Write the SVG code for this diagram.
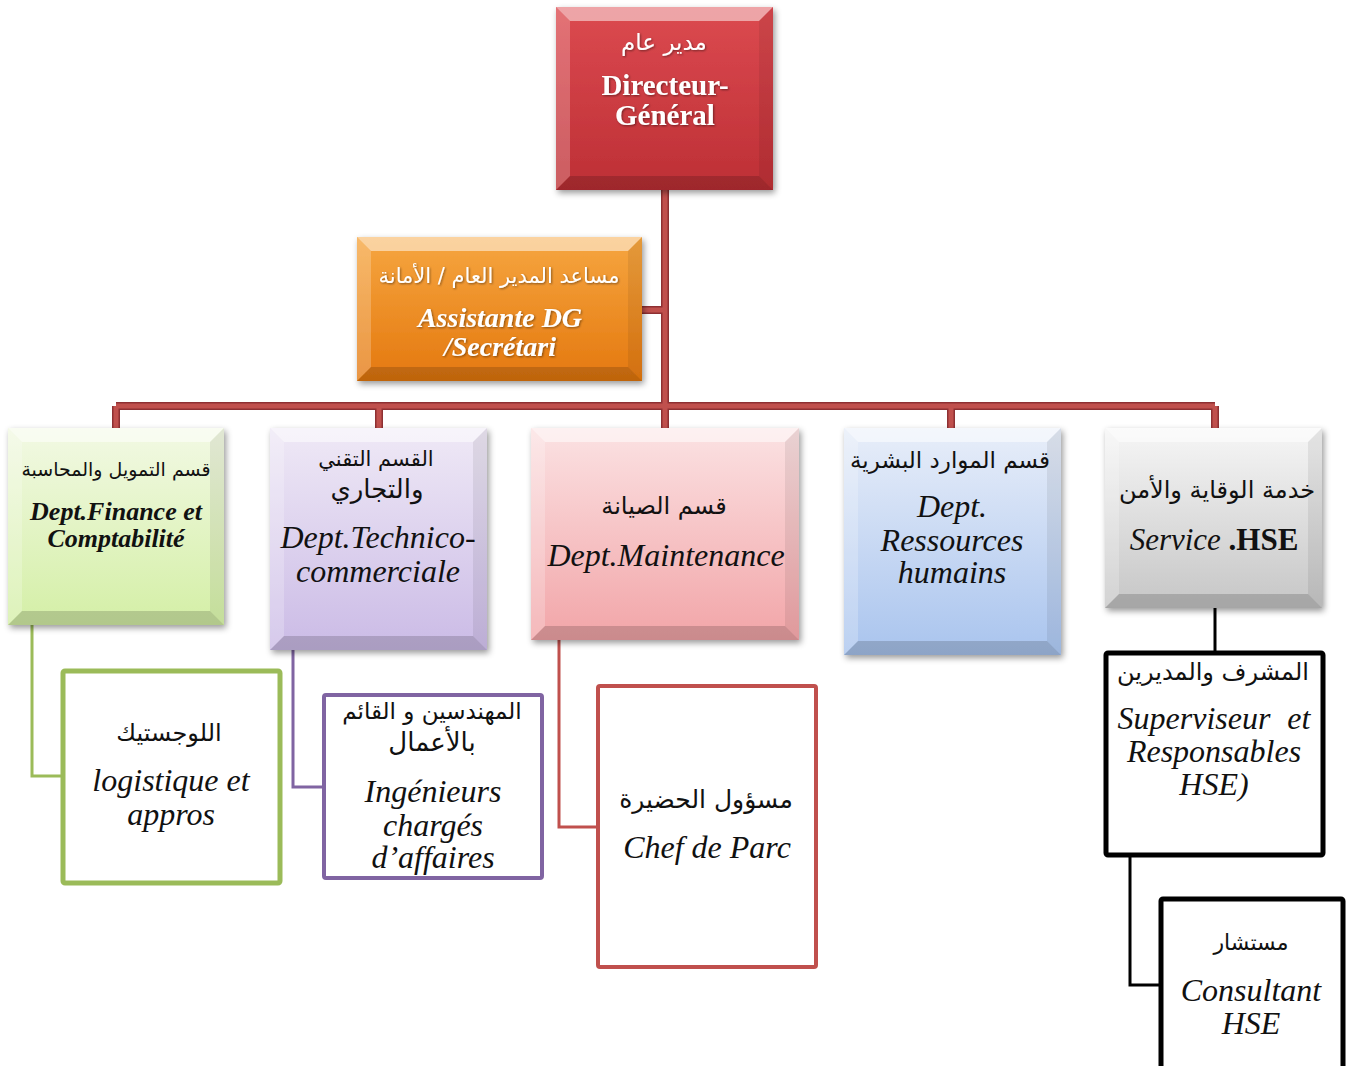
<svg xmlns="http://www.w3.org/2000/svg" width="1347" height="1066" viewBox="0 0 1347 1066">
<style>
.ar{font-family:'DejaVu Sans','Noto Sans',sans-serif;font-size:23px;text-anchor:middle;direction:rtl;fill:#111}
.lt{font-family:'Liberation Serif','DejaVu Serif',serif;font-size:32px;text-anchor:middle;fill:#111}
.it{font-style:italic}
.wh{fill:#fff}
.bt{font-weight:bold}
.bv1{fill:#fff;opacity:.5}
.bv2{fill:#fff;opacity:.22}
.bv3{fill:#000;opacity:.07}
.bv4{fill:#000;opacity:.16}
.sub{fill:#fff}
.cn{fill:none;stroke-width:3}
</style>
<defs>
<filter id="sh" x="-10%" y="-10%" width="125%" height="125%"><feDropShadow dx="2" dy="3" stdDeviation="3" flood-color="#000" flood-opacity=".4"/></filter>
<filter id="ts" x="-5%" y="-20%" width="110%" height="140%"><feDropShadow dx="1" dy="1" stdDeviation="1" flood-color="#000" flood-opacity=".45"/></filter>
<linearGradient id="gR" x1="0" y1="0" x2="0" y2="1"><stop offset="0" stop-color="#dc4a50"/><stop offset="1" stop-color="#bd2f35"/></linearGradient>
<linearGradient id="gO" x1="0" y1="0" x2="0" y2="1"><stop offset="0" stop-color="#f6a640"/><stop offset="1" stop-color="#e4780f"/></linearGradient>
<linearGradient id="gG" x1="0" y1="0" x2="0" y2="1"><stop offset="0" stop-color="#f2f9e4"/><stop offset="1" stop-color="#d4efa6"/></linearGradient>
<linearGradient id="gP" x1="0" y1="0" x2="0" y2="1"><stop offset="0" stop-color="#efe9f6"/><stop offset="1" stop-color="#cbbbe6"/></linearGradient>
<linearGradient id="gK" x1="0" y1="0" x2="0" y2="1"><stop offset="0" stop-color="#fbe2e3"/><stop offset="1" stop-color="#f2a5a8"/></linearGradient>
<linearGradient id="gB" x1="0" y1="0" x2="0" y2="1"><stop offset="0" stop-color="#e8eef9"/><stop offset="1" stop-color="#a9c4ee"/></linearGradient>
<linearGradient id="gS" x1="0" y1="0" x2="0" y2="1"><stop offset="0" stop-color="#f6f6f6"/><stop offset="1" stop-color="#c6c6c6"/></linearGradient>
</defs>

<g id="connectors">
<g stroke="#8e3033" stroke-width="8" fill="none">
<path d="M665,190 V406 M642,310 H665 M116,406 H1215 M116,406 V428 M379,406 V428 M665,406 V428 M951,406 V428 M1215,406 V428"/>
</g>
<g stroke="#c0504d" stroke-width="5" fill="none">
<path d="M665,190 V406 M642,310 H665 M116,406 H1215 M116,406 V428 M379,406 V428 M665,406 V428 M951,406 V428 M1215,406 V428"/>
</g>
<path class="cn" stroke="#9bbb59" d="M32,625 V776 H63"/>
<path class="cn" stroke="#8064a2" d="M293,650 V787 H324"/>
<path class="cn" stroke="#c0504d" d="M559,640 V827 H598"/>
<path class="cn" stroke="#000" d="M1215,608 V653"/>
<path class="cn" stroke="#000" d="M1130,855 V985 H1161"/>
</g>

<g id="node-dg">
<rect x="556" y="7" width="217" height="183" fill="url(#gR)" filter="url(#sh)"/>
<path class="bv1" d="M556,7 L773,7 759,21 570,21Z"/><path class="bv2" d="M556,7 L570,21 570,176 556,190Z"/><path class="bv3" d="M773,7 L773,190 759,176 759,21Z"/><path class="bv4" d="M556,190 L570,176 759,176 773,190Z"/>
<g filter="url(#ts)">
<text class="ar wh" x="664" y="50">مدير عام</text>
<text class="lt wh bt" x="665" y="95" style="font-size:29px">Directeur-</text>
<text class="lt wh bt" x="665" y="125" style="font-size:29px">Général</text>
</g>
</g>

<g id="node-assistante">
<rect x="357" y="237" width="285" height="144" fill="url(#gO)" filter="url(#sh)"/>
<path class="bv1" d="M357,237 L642,237 628,251 371,251Z"/><path class="bv2" d="M357,237 L371,251 371,367 357,381Z"/><path class="bv3" d="M642,237 L642,381 628,367 628,251Z"/><path class="bv4" d="M357,381 L371,367 628,367 642,381Z"/>
<g filter="url(#ts)">
<text class="ar wh" x="499" y="283" style="font-size:21px">مساعد المدير العام / الأمانة</text>
<text class="lt it wh bt" x="500" y="327" style="font-size:28px">Assistante DG</text>
<text class="lt it wh bt" x="500" y="356" style="font-size:28px">/Secrétari</text>
</g>
</g>

<g id="node-finance">
<rect x="8" y="428" width="216" height="197" fill="url(#gG)" filter="url(#sh)"/>
<path class="bv1" d="M8,428 L224,428 210,442 22,442Z"/><path class="bv2" d="M8,428 L22,442 22,611 8,625Z"/><path class="bv3" d="M224,428 L224,625 210,611 210,442Z"/><path class="bv4" d="M8,625 L22,611 210,611 224,625Z"/>
<text class="ar" x="116" y="476" style="font-size:19px">قسم التمويل والمحاسبة</text>
<text class="lt it bt" x="116" y="520" style="font-size:26px">Dept.Finance et</text>
<text class="lt it bt" x="116" y="547" style="font-size:26px">Comptabilité</text>
</g>

<g id="node-technico">
<rect x="270" y="428" width="217" height="222" fill="url(#gP)" filter="url(#sh)"/>
<path class="bv1" d="M270,428 L487,428 473,442 284,442Z"/><path class="bv2" d="M270,428 L284,442 284,636 270,650Z"/><path class="bv3" d="M487,428 L487,650 473,636 473,442Z"/><path class="bv4" d="M270,650 L284,636 473,636 487,650Z"/>
<text class="ar" x="376" y="466" style="font-size:21px">القسم التقني</text>
<text class="ar" x="377" y="498" style="font-size:26px">والتجاري</text>
<text class="lt it" x="378" y="548">Dept.Technico-</text>
<text class="lt it" x="378" y="582">commerciale</text>
</g>

<g id="node-maintenance">
<rect x="531" y="428" width="268" height="212" fill="url(#gK)" filter="url(#sh)"/>
<path class="bv1" d="M531,428 L799,428 785,442 545,442Z"/><path class="bv2" d="M531,428 L545,442 545,626 531,640Z"/><path class="bv3" d="M799,428 L799,640 785,626 785,442Z"/><path class="bv4" d="M531,640 L545,626 785,626 799,640Z"/>
<text class="ar" x="664" y="514" style="font-size:24px">قسم الصيانة</text>
<text class="lt it" x="666" y="566">Dept.Maintenance</text>
</g>

<g id="node-rh">
<rect x="844" y="428" width="217" height="227" fill="url(#gB)" filter="url(#sh)"/>
<path class="bv1" d="M844,428 L1061,428 1047,442 858,442Z"/><path class="bv2" d="M844,428 L858,442 858,641 844,655Z"/><path class="bv3" d="M1061,428 L1061,655 1047,641 1047,442Z"/><path class="bv4" d="M844,655 L858,641 1047,641 1061,655Z"/>
<text class="ar" x="950" y="468">قسم الموارد البشرية</text>
<text class="lt it" x="952" y="517">Dept.</text>
<text class="lt it" x="952" y="551">Ressources</text>
<text class="lt it" x="952" y="583">humains</text>
</g>

<g id="node-hse">
<rect x="1105" y="428" width="217" height="180" fill="url(#gS)" filter="url(#sh)"/>
<path class="bv1" d="M1105,428 L1322,428 1308,442 1119,442Z"/><path class="bv2" d="M1105,428 L1119,442 1119,594 1105,608Z"/><path class="bv3" d="M1322,428 L1322,608 1308,594 1308,442Z"/><path class="bv4" d="M1105,608 L1119,594 1308,594 1322,608Z"/>
<text class="ar" x="1217" y="498" style="font-size:24px">خدمة الوقاية والأمن</text>
<text class="lt" x="1214" y="550" style="font-size:31px"><tspan class="it">Service </tspan><tspan class="bt">.HSE</tspan></text>
</g>

<g id="node-logistique">
<rect class="sub" x="63" y="671" width="217" height="212" stroke="#9bbb59" stroke-width="5" rx="2"/>
<text class="ar" x="169" y="741" style="font-size:24px">اللوجستيك</text>
<text class="lt it" x="171" y="791">logistique et</text>
<text class="lt it" x="171" y="825">appros</text>
</g>

<g id="node-ingenieurs">
<rect class="sub" x="324" y="695" width="218" height="183" stroke="#8064a2" stroke-width="4" rx="2"/>
<text class="ar" x="432" y="719">المهندسين و القائم</text>
<text class="ar" x="432" y="751" style="font-size:26px">بالأعمال</text>
<text class="lt it" x="433" y="802">Ingénieurs</text>
<text class="lt it" x="433" y="836">chargés</text>
<text class="lt it" x="433" y="868">d’affaires</text>
</g>

<g id="node-chefparc">
<rect class="sub" x="598" y="686" width="218" height="281" stroke="#c0504d" stroke-width="4" rx="2"/>
<text class="ar" x="706" y="808" style="font-size:25px">مسؤول الحضيرة</text>
<text class="lt it" x="707" y="858">Chef de Parc</text>
</g>

<g id="node-superviseur">
<rect class="sub" x="1106" y="653" width="217" height="202" stroke="#000" stroke-width="5" rx="2"/>
<text class="ar" x="1213" y="680" style="font-size:24px">المشرف والمديرين</text>
<text class="lt it" x="1214" y="729"><tspan>Superviseur</tspan><tspan dx="18">et</tspan></text>
<text class="lt it" x="1214" y="762">Responsables</text>
<text class="lt it" x="1214" y="795">HSE)</text>
</g>

<g id="node-consultant">
<rect class="sub" x="1161" y="899" width="182" height="200" stroke="#000" stroke-width="5" rx="2"/>
<text class="ar" x="1251" y="950" style="font-size:22px">مستشار</text>
<text class="lt it" x="1251" y="1001">Consultant</text>
<text class="lt it" x="1251" y="1034">HSE</text>
</g>
</svg>
